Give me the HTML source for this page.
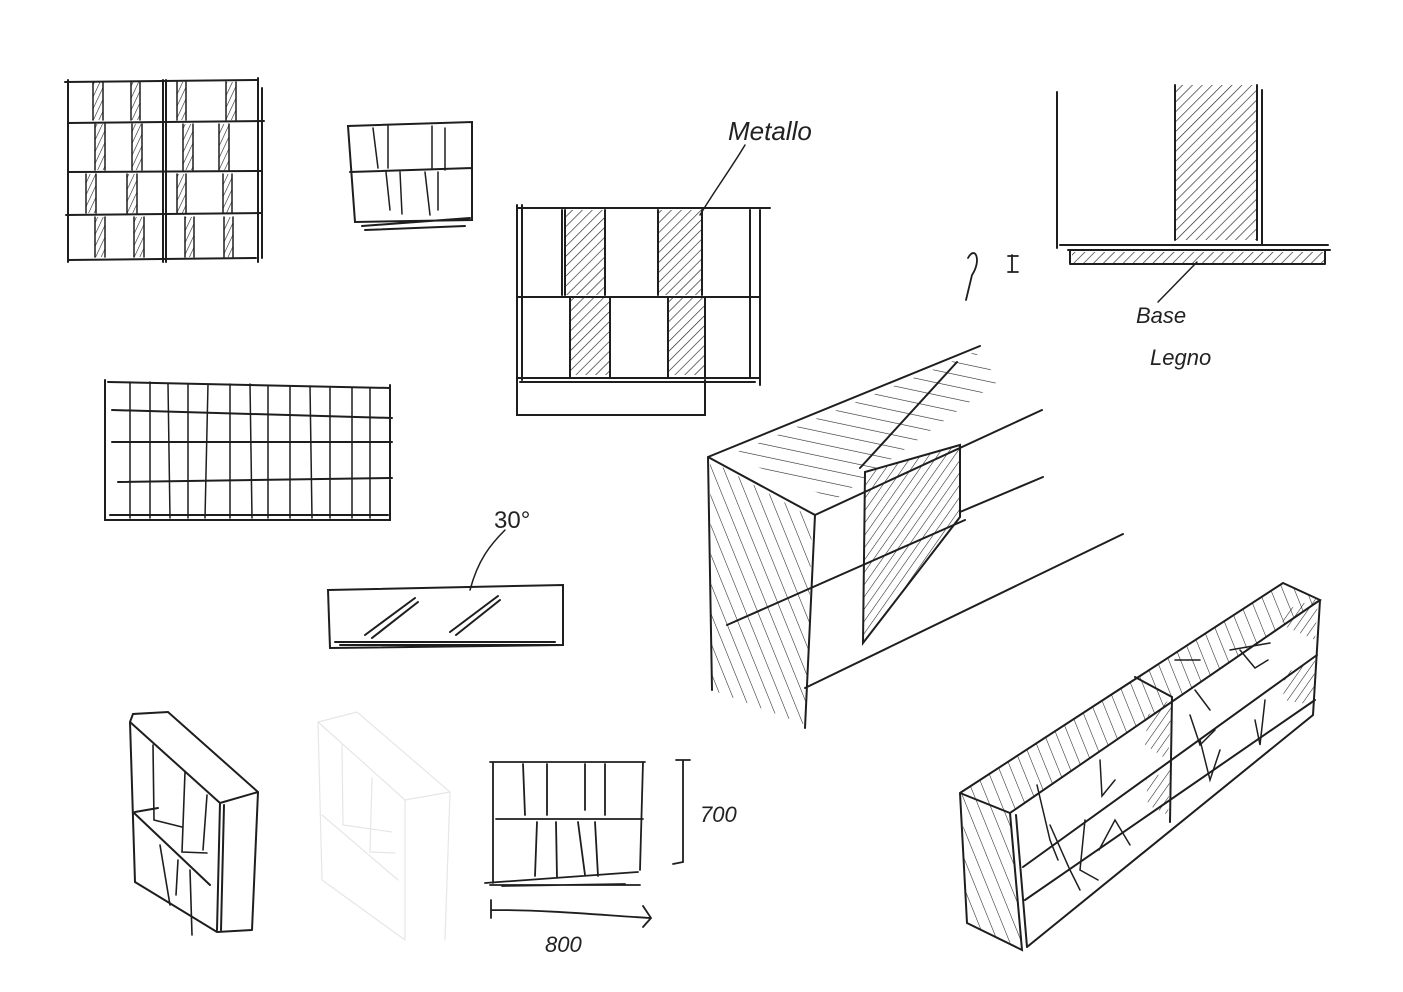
<!DOCTYPE html>
<html><head><meta charset="utf-8"><style>
html,body{margin:0;padding:0;background:#fff;}
svg{display:block;}
text{font-family:"Liberation Sans",sans-serif;fill:#222;font-style:italic;}
</style></head><body>
<svg width="1403" height="992" viewBox="0 0 1403 992" xmlns="http://www.w3.org/2000/svg">
<defs>
<pattern id="h" width="7" height="7" patternUnits="userSpaceOnUse" patternTransform="rotate(45)">
<line x1="0" y1="0" x2="0" y2="7" stroke="#222" stroke-width="1.3"/></pattern>
<pattern id="hs" width="5" height="5" patternUnits="userSpaceOnUse" patternTransform="rotate(25)">
<line x1="0" y1="0" x2="0" y2="5" stroke="#222" stroke-width="1.2"/></pattern>
<pattern id="htop" width="12" height="12" patternUnits="userSpaceOnUse" patternTransform="rotate(-78)">
<line x1="0" y1="0" x2="0" y2="12" stroke="#222" stroke-width="1.2"/></pattern>
<pattern id="h3" width="11" height="11" patternUnits="userSpaceOnUse" patternTransform="rotate(-22)">
<line x1="0" y1="0" x2="0" y2="11" stroke="#222" stroke-width="1.1"/></pattern>
<pattern id="h4" width="7" height="7" patternUnits="userSpaceOnUse" patternTransform="rotate(35)">
<line x1="0" y1="0" x2="0" y2="7" stroke="#222" stroke-width="1.1"/></pattern>
</defs>
<g stroke="#1e1e1e" stroke-width="2" fill="none" stroke-linecap="round">
<!-- 1 top-left grid -->
<g stroke="none" fill="url(#hs)">
<rect x="93" y="82" width="10" height="38"/><rect x="131" y="82" width="9" height="38"/><rect x="177" y="82" width="9" height="38"/><rect x="226" y="82" width="10" height="38"/>
<rect x="95" y="124" width="10" height="46"/><rect x="132" y="124" width="10" height="46"/><rect x="183" y="124" width="10" height="46"/><rect x="219" y="124" width="10" height="46"/>
<rect x="86" y="174" width="10" height="39"/><rect x="127" y="174" width="10" height="39"/><rect x="177" y="174" width="9" height="39"/><rect x="223" y="174" width="9" height="39"/>
<rect x="95" y="217" width="10" height="40"/><rect x="134" y="217" width="10" height="40"/><rect x="185" y="217" width="9" height="40"/><rect x="224" y="217" width="9" height="40"/>
</g>
<path d="M65 82 L258 80 M68 123 L264 121 M68 172 L262 171 M66 215 L262 213 M68 260 L256 258"/>
<path d="M68 80 V262 M163 80 V262 M166 80 V262 M258 78 V262 M262 88 V258"/>
<path d="M93 82 V120 M103 82 V120 M131 82 V120 M140 82 V120 M177 82 V120 M186 82 V120 M226 82 V120 M236 82 V120 M95 124 V170 M105 124 V170 M132 124 V170 M142 124 V170 M183 124 V170 M193 124 V170 M219 124 V170 M229 124 V170 M86 174 V213 M96 174 V213 M127 174 V213 M137 174 V213 M177 174 V213 M186 174 V213 M223 174 V213 M232 174 V213 M95 217 V257 M105 217 V257 M134 217 V257 M144 217 V257 M185 217 V257 M194 217 V257 M224 217 V257 M233 217 V257" stroke-width="1.5"/>
<!-- 2 small box -->
<path d="M348 126 L472 122 V220 L355 222 Z M350 172 L472 168 M362 226 L470 218 M365 230 L465 226"/>
<path d="M373 128 L378 168 M388 126 V168 M432 126 V168 M445 128 V170 M386 172 L390 210 M400 172 L402 214 M425 172 L430 215 M438 172 L438 210" stroke-width="1.5"/>
<!-- 3 Metallo box -->
<rect x="565" y="210" width="40" height="85" fill="url(#h)" stroke="none"/>
<rect x="658" y="210" width="44" height="85" fill="url(#h)" stroke="none"/>
<rect x="570" y="298" width="40" height="77" fill="url(#h)" stroke="none"/>
<rect x="668" y="298" width="37" height="77" fill="url(#h)" stroke="none"/>
<path d="M517 208 H770 M517 297 H760 M517 378 H760 M520 382 H755 M517 205 V415 H705 V380 M522 205 V380 M760 210 V385 M562 210 V295 M565 210 V295 M605 210 V295 M570 298 V378 M610 298 V378 M658 210 V295 M702 210 V295 M668 298 V378 M705 298 V378 M750 210 V378"/>
<path d="M745 145 C730 170 715 190 700 215" stroke-width="1.5"/>
<!-- 4 top right -->
<rect x="1175" y="85" width="82" height="155" fill="url(#h)" stroke="none"/>
<path d="M1057 92 V248 M1262 90 V245 M1175 85 V240 M1257 85 V240 M1060 245 H1328 M1068 250 H1330 M1070 264 H1325 M1070 250 V264 M1325 250 V264"/>
<rect x="1072" y="252" width="252" height="11" fill="url(#h)" stroke="none"/>
<path d="M1197 262 L1158 302" stroke-width="1.5"/>
<!-- ? I -->
<path d="M968 258 C975 245 982 260 972 275 L966 300 M1012 255 V272 M1008 256 H1018 M1008 272 H1018" stroke-width="1.8"/>
<!-- 6 wide grid -->
<path d="M105 380 V520 H390 V385 M108 382 L390 388 M112 410 L392 418 M112 442 L392 442 M118 482 L392 478 M110 515 L388 515"/>
<path d="M130 382 V518 M150 382 V518 M168 384 L170 518 M188 384 V518 M208 384 L205 518 M230 384 V518 M250 384 L252 518 M268 386 V518 M290 386 V518 M310 386 L312 518 M330 388 V518 M352 388 V518 M370 388 V518" stroke-width="1.5"/>
<!-- 7 30 deg bar -->
<path d="M328 590 L563 585 V645 L330 648 Z M335 642 H555 M340 645 H560"/>
<path d="M365 635 L415 598 M372 638 L418 602 M450 632 L498 596 M456 635 L500 600"/>
<path d="M470 590 C478 560 490 545 505 530" stroke-width="1.5"/>
<!-- 8 big beam -->
<polygon points="710,460 812,518 806,725 712,690" fill="url(#h3)" stroke="none"/>
<polygon points="730,455 975,352 1000,380 835,500" fill="url(#htop)" stroke="none"/>
<path d="M708 457 L815 515 L805 728 M708 457 L712 690 M708 457 L980 346 M815 515 L1042 410 M960 512 L1043 477 M805 688 L1123 534 M727 625 L965 520 M860 468 L957 362"/>
<polygon points="865,472 960,445 960,517 863,643" fill="url(#h4)" stroke="#1e1e1e"/>
<!-- 9 bottom-left box -->
<path d="M130 722 L133 714 L168 712 L258 792 L252 930 M130 722 L220 803 L258 792 M130 722 L135 882 L217 932 L252 930 M220 803 L217 930 M224 805 L221 930 M133 812 L210 885 M135 812 L158 808"/>
<path d="M153 745 L154 820 L182 827 M185 772 L182 852 L207 853 M207 795 L203 850 M160 845 L170 905 M178 860 L176 895 M190 870 L192 935" stroke-width="1.6"/>
<!-- 10 faint box -->
<path d="M318 722 L357 712 L450 792 L445 940 M318 722 L405 800 L450 792 M318 722 L322 880 L405 940 M405 800 L405 940 M322 815 L398 880 M342 745 L343 825 L392 832 M372 778 L370 852 L395 853" stroke="#e6e6e6" stroke-width="1.2"/>
<!-- 11 700x800 box -->
<path d="M490 762 H645 M493 762 V883 M643 762 L640 870 M496 819 H643 M485 883 L638 872 M490 885 H640 M502 886 L625 884 M523 764 L525 815 M547 764 V815 M585 764 L585 810 M605 764 V815 M537 822 L535 876 M556 822 L557 878 M578 822 L585 875 M595 822 L598 876" stroke-width="1.8"/>
<path d="M676 760 H690 M683 760 V862 L673 864 M491 900 V918 M491 910 C550 910 600 915 650 918 M643 906 L651 918 L643 927" stroke-width="1.8"/>
<!-- 12 bottom-right shelf -->
<polygon points="960,793 1283,583 1320,600 1010,813" fill="url(#h3)" stroke="none"/>
<polygon points="962,795 1010,813 1022,948 967,923" fill="url(#h3)" stroke="none"/>
<polygon points="1285,610 1318,598 1315,640 1282,625" fill="url(#h4)" stroke="none"/>
<polygon points="1285,673 1315,660 1313,705 1283,700" fill="url(#h4)" stroke="none"/>
<polygon points="1148,715 1172,698 1168,760 1145,745" fill="url(#h4)" stroke="none"/>
<polygon points="1146,780 1170,770 1168,815 1148,805" fill="url(#h4)" stroke="none"/>
<path d="M960 793 L1283 583 L1320 600 L1010 813 L960 793 M960 793 L967 923 L1022 950 L1010 813 M1016 815 L1027 947 M1320 600 L1313 715 L1027 947 M1023 867 L1317 655 M1135 677 L1172 697 L1170 822 M1025 900 L1315 700"/>
<path d="M1037 785 L1050 840 L1058 860 M1050 825 L1070 870 L1080 890 M1100 760 L1102 796 L1115 780 M1085 820 L1080 870 L1098 880 M1099 850 L1115 820 L1130 845 M1190 715 L1200 745 L1215 730 M1195 690 L1210 710 M1240 650 L1255 668 L1268 660 M1230 650 L1270 643 M1200 740 L1210 780 L1220 750 M1255 720 L1260 745 L1265 700 M1175 660 L1200 660" stroke-width="1.5"/>
</g>
<text x="728" y="140" font-size="26">Metallo</text>
<text x="1136" y="323" font-size="22">Base</text>
<text x="1150" y="365" font-size="22">Legno</text>
<text x="494" y="528" font-size="24" style="font-style:normal">30°</text>
<text x="700" y="822" font-size="22">700</text>
<text x="545" y="952" font-size="22">800</text>
</svg>
</body></html>
